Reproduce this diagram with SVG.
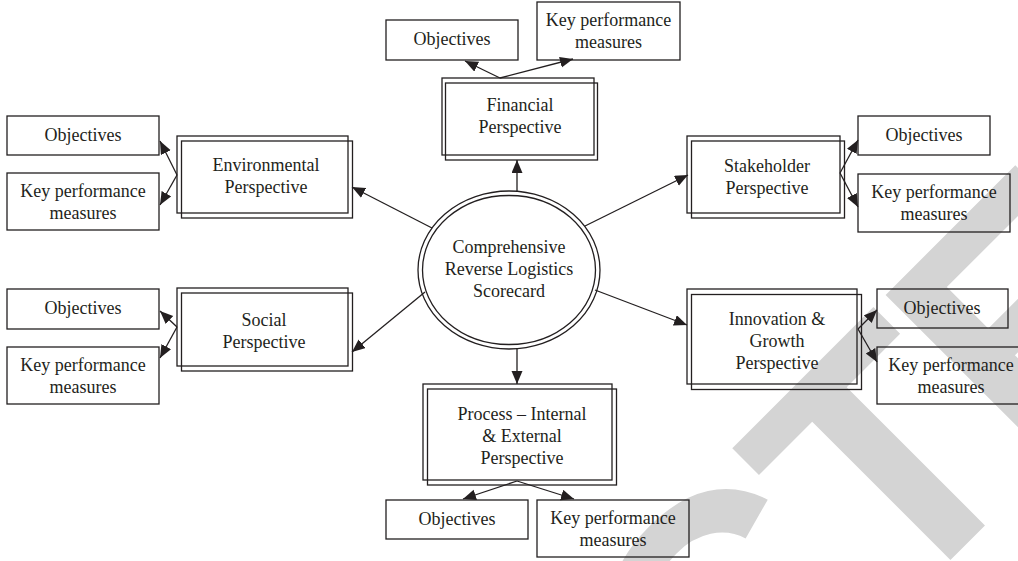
<svg xmlns="http://www.w3.org/2000/svg" width="1018" height="561" viewBox="0 0 1018 561">
<style>
.bx{fill:none;stroke:#231f20;stroke-width:1.3}
.t{font-family:"Liberation Serif","Times New Roman",serif;font-size:18px;fill:#231f20;text-anchor:middle}
.c{fill:none;stroke:#231f20;stroke-width:1.3;marker-end:url(#ah)}
.wm{font-family:"Liberation Sans",Arial,sans-serif;font-weight:bold;font-size:339px;fill:#d4d4d4}
</style>
<defs>
<marker id="ah" markerUnits="userSpaceOnUse" markerWidth="14" markerHeight="12" refX="13" refY="5.5" orient="auto">
<path d="M0,0 L13,5.5 L0,11 z" fill="#231f20"/>
</marker>
</defs>
<rect width="1018" height="561" fill="#fff"/>
<g id="watermark">
<text class="wm" transform="rotate(-45)" x="-1211 -966 -740 -533 -288 -43 197 395 621" y="1068">RETRACTED</text>
</g>
<g id="center">
<ellipse cx="509" cy="270" rx="91" ry="79" class="bx"/>
<ellipse cx="509" cy="270" rx="86.5" ry="74.5" class="bx"/>
<text class="t" x="509" y="253">Comprehensive</text>
<text class="t" x="509" y="275">Reverse Logistics</text>
<text class="t" x="509" y="297">Scorecard</text>
</g>
<g id="financial">
<rect x="442" y="78" width="152" height="77" class="bx"/>
<rect x="445.5" y="83" width="152" height="77" class="bx"/>
<text class="t" x="520" y="111">Financial</text>
<text class="t" x="520" y="133">Perspective</text>
</g>
<g id="fin-obj"><rect x="386" y="20" width="132" height="40" class="bx"/><text class="t" x="452" y="45">Objectives</text></g>
<g id="fin-kpm"><rect x="537" y="2" width="143" height="58" class="bx"/><text class="t" x="608.5" y="26">Key performance</text><text class="t" x="608.5" y="48">measures</text></g>
<g id="environmental">
<rect x="177" y="136" width="171" height="77" class="bx"/>
<rect x="181.5" y="141" width="171" height="77" class="bx"/>
<text class="t" x="266" y="171">Environmental</text>
<text class="t" x="266" y="193">Perspective</text>
</g>
<g id="env-obj"><rect x="7" y="116" width="152" height="39" class="bx"/><text class="t" x="83" y="141">Objectives</text></g>
<g id="env-kpm"><rect x="7" y="173" width="152" height="57" class="bx"/><text class="t" x="83" y="197">Key performance</text><text class="t" x="83" y="219">measures</text></g>
<g id="social">
<rect x="177" y="288" width="171" height="78" class="bx"/>
<rect x="181.5" y="293" width="171" height="78" class="bx"/>
<text class="t" x="264" y="326">Social</text>
<text class="t" x="264" y="348">Perspective</text>
</g>
<g id="soc-obj"><rect x="7" y="289" width="152" height="40" class="bx"/><text class="t" x="83" y="314">Objectives</text></g>
<g id="soc-kpm"><rect x="7" y="347" width="152" height="57" class="bx"/><text class="t" x="83" y="371">Key performance</text><text class="t" x="83" y="393">measures</text></g>
<g id="stakeholder">
<rect x="687" y="136" width="153" height="77" class="bx"/>
<rect x="691.5" y="141" width="153" height="77" class="bx"/>
<text class="t" x="767" y="172">Stakeholder</text>
<text class="t" x="767" y="194">Perspective</text>
</g>
<g id="stk-obj"><rect x="858" y="116" width="132" height="39" class="bx"/><text class="t" x="924" y="141">Objectives</text></g>
<g id="stk-kpm"><rect x="858" y="174" width="152" height="58" class="bx"/><text class="t" x="934" y="198">Key performance</text><text class="t" x="934" y="220">measures</text></g>
<g id="innovation">
<rect x="687" y="289" width="170" height="95" class="bx"/>
<rect x="691.5" y="294.5" width="170" height="95" class="bx"/>
<text class="t" x="777" y="325">Innovation &amp;</text>
<text class="t" x="777" y="347">Growth</text>
<text class="t" x="777" y="369">Perspective</text>
</g>
<g id="inn-obj"><rect x="877" y="289" width="131" height="39" class="bx"/><text class="t" x="942" y="314">Objectives</text></g>
<g id="inn-kpm"><rect x="877" y="347" width="150" height="57" class="bx"/><text class="t" x="951" y="371">Key performance</text><text class="t" x="951" y="393">measures</text></g>
<g id="process">
<rect x="423" y="384" width="189" height="96" class="bx"/>
<rect x="427.5" y="389" width="189" height="96" class="bx"/>
<text class="t" x="522" y="420">Process – Internal</text>
<text class="t" x="522" y="442">&amp; External</text>
<text class="t" x="522" y="464">Perspective</text>
</g>
<g id="pro-obj"><rect x="386" y="500" width="142" height="39" class="bx"/><text class="t" x="457" y="525">Objectives</text></g>
<g id="pro-kpm"><rect x="537" y="500" width="152" height="57" class="bx"/><text class="t" x="613" y="524">Key performance</text><text class="t" x="613" y="546">measures</text></g>
<g id="connectors">
<line x1="517" y1="192" x2="517" y2="160" class="c"/>
<line x1="432" y1="228" x2="352" y2="187" class="c"/>
<line x1="425" y1="292" x2="352" y2="352" class="c"/>
<line x1="585" y1="226" x2="688" y2="175" class="c"/>
<line x1="595" y1="290" x2="687" y2="325" class="c"/>
<line x1="517" y1="349" x2="517" y2="384" class="c"/>
<line x1="500" y1="78" x2="465" y2="61" class="c"/>
<line x1="500" y1="78" x2="573" y2="59" class="c"/>
<line x1="177" y1="175" x2="160" y2="141" class="c"/>
<line x1="177" y1="175" x2="160" y2="205" class="c"/>
<line x1="177" y1="327" x2="160" y2="311" class="c"/>
<line x1="177" y1="327" x2="160" y2="358" class="c"/>
<line x1="840" y1="173" x2="858" y2="140" class="c"/>
<line x1="840" y1="173" x2="858" y2="207" class="c"/>
<line x1="858" y1="329" x2="877" y2="310" class="c"/>
<line x1="858" y1="329" x2="877" y2="362" class="c"/>
<line x1="517" y1="481" x2="463" y2="499" class="c"/>
<line x1="517" y1="481" x2="574" y2="499" class="c"/>
</g>
</svg>
